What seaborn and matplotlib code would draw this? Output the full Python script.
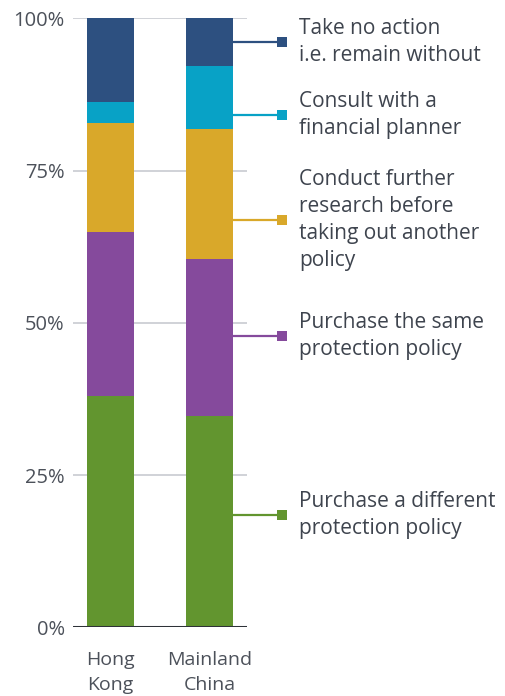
import matplotlib
matplotlib.use("Agg")
import matplotlib.pyplot as plt
import seaborn as sns
import pandas as pd
import numpy as np

# Share of respondents (%) by response, stacked bottom to top
regions = ["Hong\nKong", "Mainland\nChina"]
different_policy = [37.9, 34.7]
same_policy = [27.0, 25.8]
further_research = [17.9, 21.3]
consult_planner = [3.5, 10.4]
no_action = [13.7, 7.8]

series_names = [
    "Purchase a different\nprotection policy",
    "Purchase the same\nprotection policy",
    "Conduct further\nresearch before\ntaking out another\npolicy",
    "Consult with a\nfinancial planner",
    "Take no action\ni.e. remain without",
]
series_values = [different_policy, same_policy, further_research, consult_planner, no_action]
series_colors = ["#62952f", "#854a9c", "#d9a82a", "#08a2c6", "#2d5080"]
# vertical anchor (in %) of each callout next to the second bar
label_y = [18.5, 47.8, 66.9, 84.1, 96.1]

yticks = [0, 25, 50, 75, 100]
ytick_labels = ["0%", "25%", "50%", "75%", "100%"]

df = pd.DataFrame({"region": regions})
for name, vals in zip(series_names, series_values):
    df[name] = vals
cum = df[series_names].cumsum(axis=1)

sns.set_theme(style="white")
plt.rcParams["font.family"] = ["Open Sans", "DejaVu Sans"]

fig = plt.figure(figsize=(5.05, 6.96), dpi=100)
ax = fig.add_axes([73 / 505, 1 - 627.3 / 696, 174 / 505, (627.3 - 18.3) / 696])

bar_w = 0.475
# draw cumulative totals from the top series down so each layer shows its own segment
for name, color in reversed(list(zip(series_names, series_colors))):
    plot_df = pd.DataFrame({"region": regions, "value": cum[name].values})
    sns.barplot(data=plot_df, x="region", y="value", color=color, width=bar_w,
                saturation=1, ax=ax, zorder=2, linewidth=0)

ax.set_xlim(-0.379, 1.379)
ax.set_ylim(0, 100)
ax.set_yticks(yticks)
ax.set_yticklabels(ytick_labels)
ax.set_xlabel("")
ax.set_ylabel("")
for s in ax.spines.values():
    s.set_visible(False)
for t in yticks[1:]:
    ax.axhline(t, color="#cdcfd4", lw=1.3, zorder=1)
ax.axhline(0, color="#2e3238", lw=2.2, zorder=3)
ax.tick_params(axis="y", length=0, pad=6, labelsize=14.5, labelcolor="#4c515a")
ax.tick_params(axis="x", length=0, pad=17, labelsize=14, labelcolor="#4c515a")
for lbl in ax.get_xticklabels():
    lbl.set_linespacing(1.5)

# callouts: connector from the right bar to a square marker, then the label
x_edge = 1 + bar_w / 2
x_mark = 1.732
x_text = 1.904
for name, color, y in zip(series_names, series_colors, label_y):
    ax.plot([x_edge, x_mark], [y, y], color=color, lw=1.6, clip_on=False, zorder=4,
            solid_capstyle="butt")
    ax.plot([x_mark], [y], marker="s", ms=7.5, color=color, clip_on=False, zorder=5,
            markeredgewidth=0)
    ax.text(x_text, y, name, ha="left", va="center", fontsize=15, color="#3e444e",
            linespacing=1.38, clip_on=False)

fig.savefig("out.png", dpi=100)
